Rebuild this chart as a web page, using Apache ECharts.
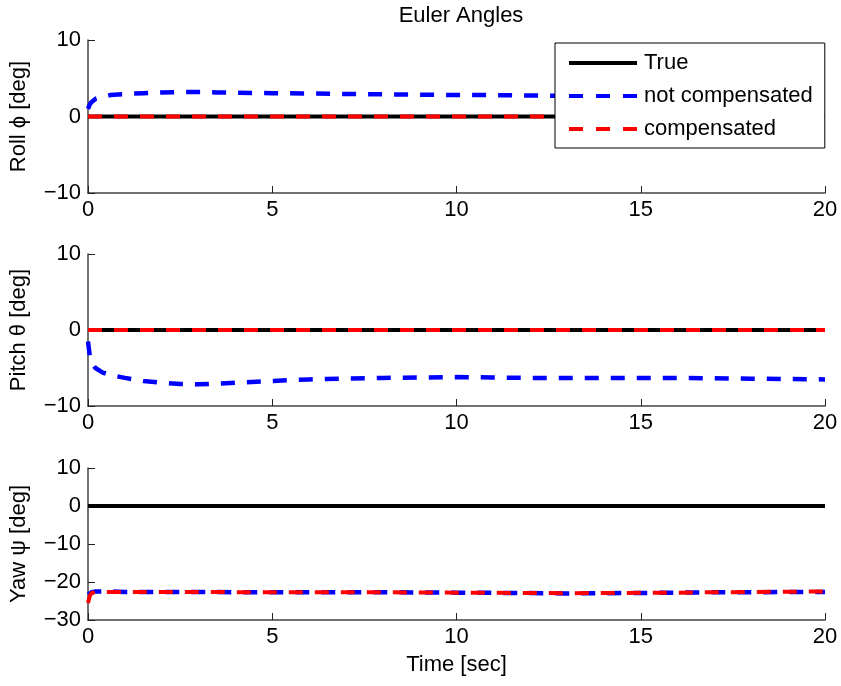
<!DOCTYPE html>
<html><head><meta charset="utf-8">
<script src="https://cdn.jsdelivr.net/npm/echarts@6/dist/echarts.min.js"></script>
<style>html,body{margin:0;padding:0;background:#fff}#c{width:841px;height:686px}</style>
</head><body><div id="c"></div>
<script>
var time      = [0, 0.05, 0.1, 0.2, 0.4, 0.6, 1, 1.5, 2, 2.5, 3, 3.5, 4, 5, 6, 7, 8, 9, 10, 11, 12, 13, 14, 15, 16, 17, 18, 19, 20];
var rollTrue  = [0,0,0,0,0,0,0,0,0,0,0,0,0,0,0,0,0,0,0,0,0,0,0,0,0,0,0,0,0];
var rollNC    = [1.0,1.6,1.9,2.3,2.6,2.8,2.95,3.05,3.15,3.2,3.2,3.15,3.1,3.05,3.0,2.95,2.9,2.85,2.8,2.8,2.75,2.7,2.7,2.7,2.7,2.7,2.7,2.7,2.7];
var rollC     = [0,0,0,0,0,0,0,0,0,0,0,0,0,0,0,0,0,0,0,0,0,0,0,0,0,0,0,0,0];
var pitchTrue = [0,0,0,0,0,0,0,0,0,0,0,0,0,0,0,0,0,0,0,0,0,0,0,0,0,0,0,0,0];
var pitchNC   = [-1.5,-3.5,-4.3,-5.0,-5.6,-5.9,-6.3,-6.7,-6.95,-7.1,-7.15,-7.05,-6.95,-6.7,-6.5,-6.4,-6.3,-6.25,-6.2,-6.25,-6.3,-6.3,-6.3,-6.3,-6.3,-6.35,-6.4,-6.45,-6.5];
var pitchC    = [0,0,0,0,0,0,0,0,0,0,0,0,0,0,0,0,0,0,0,0,0,0,0,0,0,0,0,0,0];
var yawTrue   = [0,0,0,0,0,0,0,0,0,0,0,0,0,0,0,0,0,0,0,0,0,0,0,0,0,0,0,0,0];
var yawNC     = [-23.3,-22.9,-22.7,-22.5,-22.5,-22.5,-22.6,-22.6,-22.6,-22.6,-22.6,-22.6,-22.7,-22.7,-22.7,-22.7,-22.7,-22.75,-22.8,-22.85,-22.9,-23.0,-22.95,-22.9,-22.8,-22.7,-22.7,-22.6,-22.6];
var yawC      = [-25.5,-23.6,-22.9,-22.6,-22.6,-22.6,-22.6,-22.6,-22.6,-22.6,-22.6,-22.6,-22.7,-22.7,-22.7,-22.7,-22.7,-22.75,-22.8,-22.85,-22.9,-22.95,-22.9,-22.85,-22.8,-22.7,-22.65,-22.55,-22.5];
var xTicks = {min: 0, max: 20, interval: 5};
var yRanges = [{min: -10, max: 10, interval: 10}, {min: -10, max: 10, interval: 10}, {min: -30, max: 10, interval: 10}];
var yNames = ['Roll \u03D5 [deg]', 'Pitch \u03B8 [deg]', 'Yaw \u03C8 [deg]'];
var seriesNames = ['True', 'not compensated', 'compensated'];
var colors = ['#000000', '#0000ff', '#ff0000'];
var panels = [[rollTrue, rollNC, rollC], [pitchTrue, pitchNC, pitchC], [yawTrue, yawNC, yawC]];

var FONT = 'Liberation Sans, Arial, Helvetica, sans-serif';
function zip(t, v) { return t.map(function (x, i) { return [x, v[i]]; }); }
function fmt(v) { return String(v).replace('-', '\u2212'); }

var SOLID_ICON = 'path://M0,0H68V4H0Z';
var DASH_ICON = 'path://M0,0H14V4H0Z M27,0H41V4H27Z M54,0H68V4H54Z';

var grids = [{left: 87, right: 16, top: 40, height: 153},
             {left: 87, right: 16, top: 254, height: 152},
             {left: 87, right: 16, top: 468, height: 152}];
var axisLine = {show: true, onZero: false, lineStyle: {color: '#444', width: 1.5}};
var axisTick = {show: true, inside: true, length: 7, lineStyle: {color: '#222', width: 1}};
var xAxes = [], yAxes = [], series = [];
for (var g = 0; g < 3; g++) {
  xAxes.push({type: 'value', gridIndex: g, min: xTicks.min, max: xTicks.max, interval: xTicks.interval,
    axisLine: axisLine, axisTick: axisTick, splitLine: {show: false},
    axisLabel: {color: '#000', fontSize: 22, fontFamily: FONT, margin: 6, formatter: fmt},
    name: g === 2 ? 'Time [sec]' : '', nameLocation: 'middle', nameGap: 34,
    nameTextStyle: {color: '#000', fontSize: 22, fontFamily: FONT}});
  yAxes.push({type: 'value', gridIndex: g, min: yRanges[g].min, max: yRanges[g].max, interval: yRanges[g].interval,
    axisLine: axisLine, axisTick: axisTick, splitLine: {show: false},
    axisLabel: {color: '#000', fontSize: 22, fontFamily: FONT, margin: 7, formatter: fmt},
    name: yNames[g], nameLocation: 'middle', nameRotate: 90, nameGap: 58,
    nameTextStyle: {color: '#000', fontSize: 22, fontFamily: FONT}});
  for (var s = 0; s < 3; s++) {
    series.push({type: 'line', name: seriesNames[s], xAxisIndex: g, yAxisIndex: g,
      data: zip(time, panels[g][s]), symbol: 'none', showSymbol: false, animation: false,
      lineStyle: {color: colors[s], width: s === 1 ? 4.5 : 4, type: s === 0 ? 'solid' : [14, 12], cap: 'butt'},
      itemStyle: {color: colors[s]}, z: 2 + s});
  }
}
var chart = echarts.init(document.getElementById('c'), null, {renderer: 'canvas'});
chart.setOption({
  animation: false,
  backgroundColor: '#fff',
  title: {text: 'Euler Angles', left: 456, top: 0, textAlign: 'center',
    textStyle: {color: '#000', fontSize: 22, fontWeight: 'normal', fontFamily: FONT}},
  grid: grids, xAxis: xAxes, yAxis: yAxes, series: series,
  legend: {
    data: [{name: seriesNames[0], icon: SOLID_ICON},
           {name: seriesNames[1], icon: DASH_ICON},
           {name: seriesNames[2], icon: DASH_ICON}],
    orient: 'vertical', left: 555, top: 43, padding: [9, 12, 8, 14],
    itemWidth: 68, itemHeight: 14, itemGap: 11, backgroundColor: '#fff', borderColor: '#000', borderWidth: 1,
    symbolKeepAspect: true, itemStyle: {borderWidth: 0},
    z: 10, selectedMode: false,
    textStyle: {color: '#000', fontSize: 22, lineHeight: 22, fontFamily: FONT, padding: [0, 0, 0, 2]}}
});
</script></body></html>
